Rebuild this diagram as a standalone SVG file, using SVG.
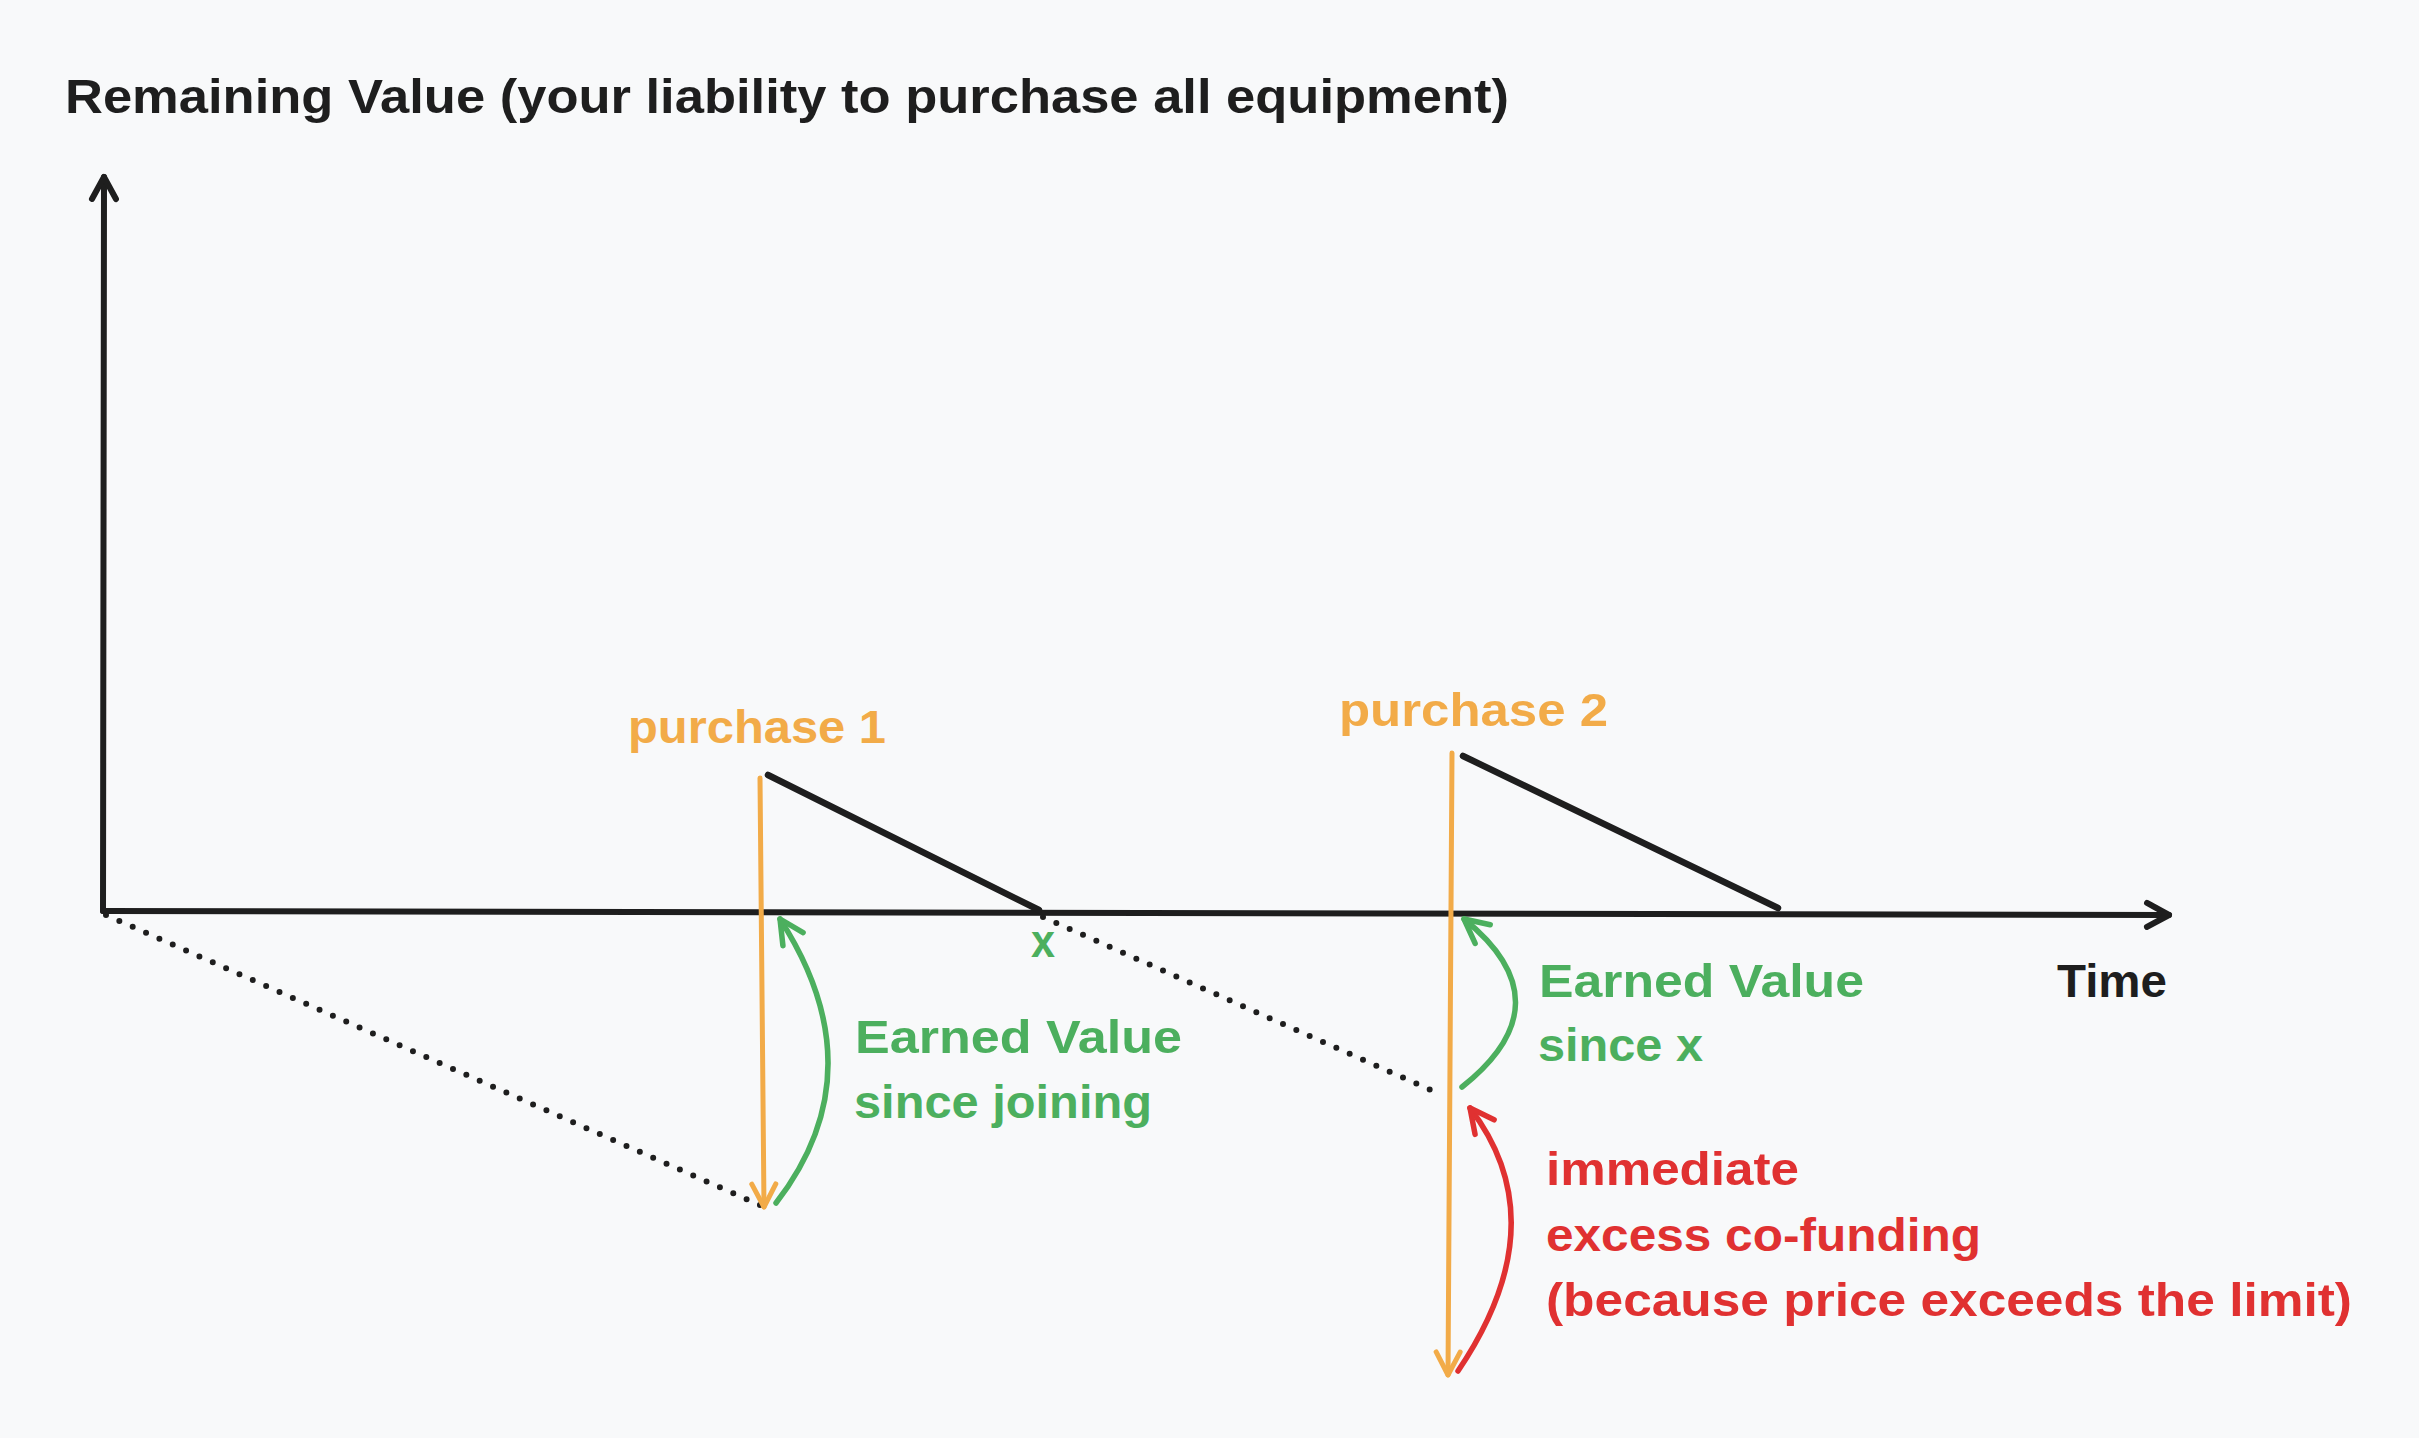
<svg xmlns="http://www.w3.org/2000/svg" width="2419" height="1438" viewBox="0 0 2419 1438">
<style>
text{font-family:"Liberation Sans","Noto Sans",sans-serif;font-size:46px;font-weight:bold;}
.t{fill:#1e1e1e;font-size:48px;}
.o{fill:#f2ab48;}
.g{fill:#4caf5e;}
.r{fill:#e03131;}
.k{fill:#1e1e1e;}
.ax{stroke:#1e1e1e;stroke-width:6;fill:none;stroke-linecap:round;}
.sl{stroke:#1e1e1e;stroke-width:6.5;fill:none;stroke-linecap:round;}
.dot{stroke:#1e1e1e;stroke-width:6;fill:none;stroke-linecap:round;stroke-dasharray:0 14.6;}
.oa{stroke:#f2ab48;stroke-width:5;fill:none;stroke-linecap:round;}
.ga{stroke:#4caf5e;stroke-width:5.5;fill:none;stroke-linecap:round;}
.ra{stroke:#e03131;stroke-width:5.5;fill:none;stroke-linecap:round;}
</style>
<defs>
<marker id="mk" markerUnits="userSpaceOnUse" markerWidth="40" markerHeight="40" refX="0" refY="0" viewBox="-30 -20 40 40" orient="auto" overflow="visible"><path d="M -22 -12 L 0 0 L -22 12" fill="none" stroke="#1e1e1e" stroke-width="6" stroke-linecap="round" stroke-linejoin="round"/></marker>
<marker id="mo" markerUnits="userSpaceOnUse" markerWidth="40" markerHeight="40" refX="0" refY="0" viewBox="-30 -20 40 40" orient="auto" overflow="visible"><path d="M -23 -12 L 0 0 L -23 12" fill="none" stroke="#f2ab48" stroke-width="5" stroke-linecap="round" stroke-linejoin="round"/></marker>
<marker id="mg" markerUnits="userSpaceOnUse" markerWidth="40" markerHeight="40" refX="0" refY="0" viewBox="-30 -20 40 40" orient="auto" overflow="visible"><path d="M -24 -12 L 0 0 L -24 12" fill="none" stroke="#4caf5e" stroke-width="5.5" stroke-linecap="round" stroke-linejoin="round"/></marker>
<marker id="mr" markerUnits="userSpaceOnUse" markerWidth="40" markerHeight="40" refX="0" refY="0" viewBox="-30 -20 40 40" orient="auto" overflow="visible"><path d="M -24 -12 L 0 0 L -24 12" fill="none" stroke="#e03131" stroke-width="5.5" stroke-linecap="round" stroke-linejoin="round"/></marker>
</defs>
<rect width="2419" height="1438" fill="#f8f9fa"/>

<g id="title"><text class="t" x="65" y="113" textLength="1444" lengthAdjust="spacingAndGlyphs">Remaining Value (your liability to purchase all equipment)</text></g>

<g id="axes">
<path class="ax" d="M 103 911 L 104 177" marker-end="url(#mk)"/>
<path class="ax" d="M 103 911 L 2169 915" marker-end="url(#mk)"/>
<text class="k" x="2057" y="997" textLength="110" lengthAdjust="spacingAndGlyphs">Time</text>
</g>

<g id="purchase1">
<text class="o" x="628" y="743" textLength="258" lengthAdjust="spacingAndGlyphs">purchase 1</text>
<path class="sl" d="M 768 775 L 1039 910"/>
</g>

<g id="purchase2">
<text class="o" x="1339" y="726" textLength="269" lengthAdjust="spacingAndGlyphs">purchase 2</text>
<path class="sl" d="M 1463 756 L 1778 908"/>
</g>

<g id="xlabel"><text class="g" x="1031" y="957" textLength="24" lengthAdjust="spacingAndGlyphs">x</text></g>

<g id="earned1">
<text class="g" x="855" y="1053" textLength="327" lengthAdjust="spacingAndGlyphs">Earned Value</text>
<text class="g" x="854" y="1118" textLength="298" lengthAdjust="spacingAndGlyphs">since joining</text>
</g>

<g id="earned2">
<text class="g" x="1539" y="997" textLength="325" lengthAdjust="spacingAndGlyphs">Earned Value</text>
<text class="g" x="1538" y="1061" textLength="165" lengthAdjust="spacingAndGlyphs">since x</text>
</g>

<g id="excess">
<text class="r" x="1546" y="1185" textLength="253" lengthAdjust="spacingAndGlyphs">immediate</text>
<text class="r" x="1546" y="1251" textLength="435" lengthAdjust="spacingAndGlyphs">excess co-funding</text>
<text class="r" x="1546" y="1316" textLength="806" lengthAdjust="spacingAndGlyphs">(because price exceeds the limit)</text>
</g>

<g id="connectors">
<path class="dot" d="M 106 915 L 762 1206"/>
<path class="dot" d="M 1043 917 L 1433 1091"/>
<path class="oa" d="M 760 778 L 764 1207" marker-end="url(#mo)"/>
<path class="oa" d="M 1452 753 L 1448 1375" marker-end="url(#mo)"/>
<path class="ga" d="M 776 1203 Q 878 1071 780 919" marker-end="url(#mg)"/>
<path class="ga" d="M 1462 1087 Q 1568 1003 1464 919" marker-end="url(#mg)"/>
<path class="ra" d="M 1458 1371 Q 1558 1223 1470 1108" marker-end="url(#mr)"/>
</g>
</svg>
